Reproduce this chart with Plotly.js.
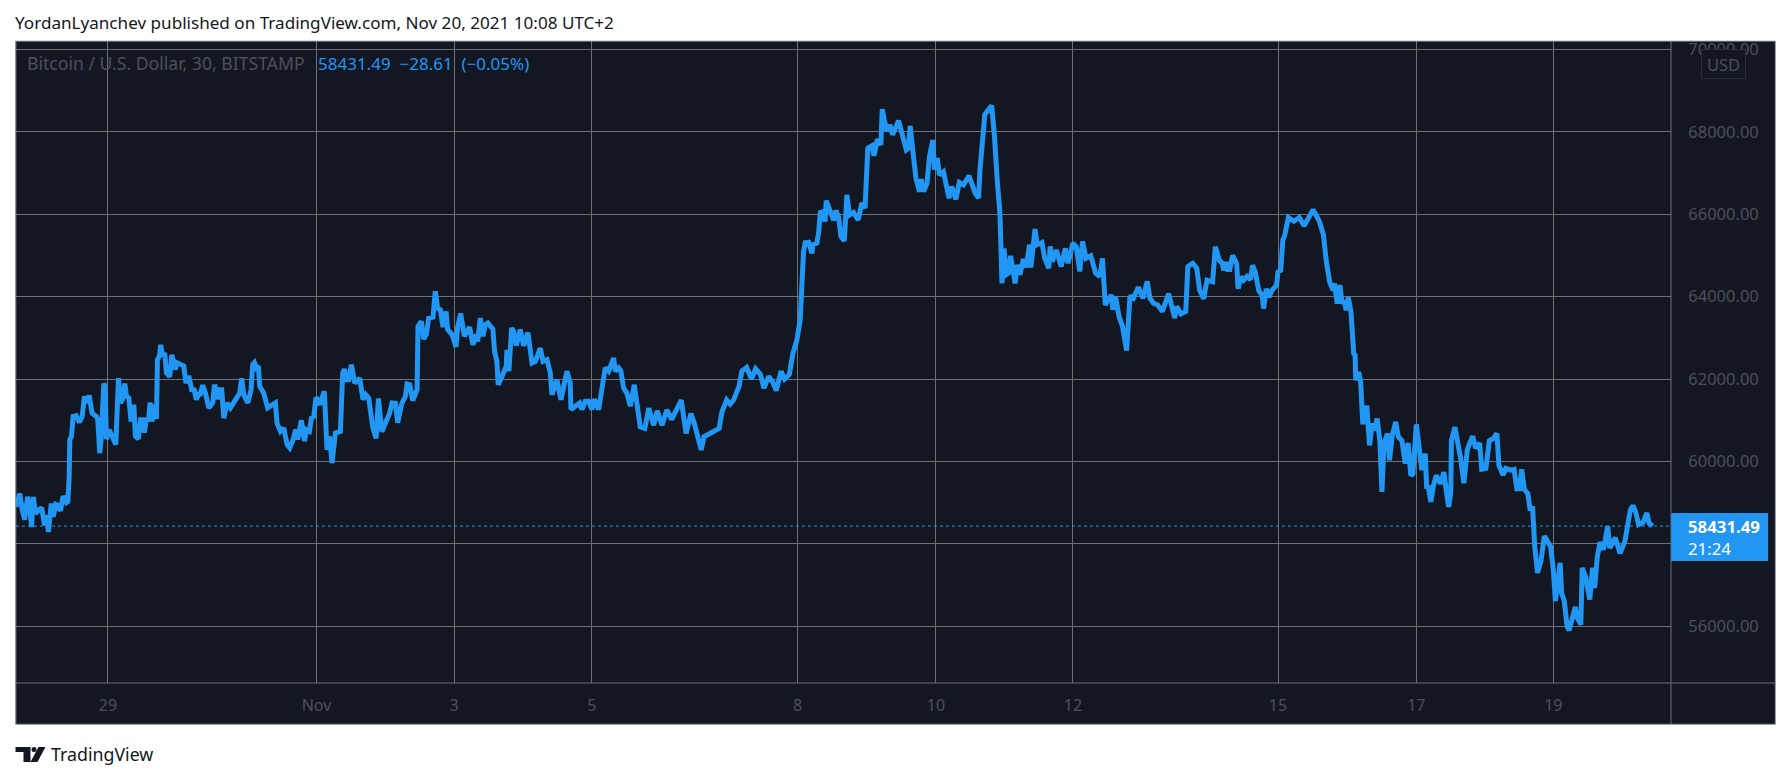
<!DOCTYPE html>
<html>
<head>
<meta charset="utf-8">
<script src="https://cdn.plot.ly/plotly-3.0.1.min.js"></script>
<style>html,body{margin:0;padding:0;background:#fff;overflow:hidden}#chart{width:1791px;height:778px}</style>
</head>
<body>
<div id="chart"></div>
<script>
// Days since 29 Oct 2021 (axis unit) and BTC/USD price
const days = [-1.337,-1.28,-1.245,-1.21,-1.167,-1.14,-1.11,-1.083,-1.055,-1.013,-0.963,-0.921,-0.893,-0.865,-0.823,-0.794,-0.759,-0.731,-0.689,-0.653,-0.604,-0.583,-0.564,-0.554,-0.53,-0.506,-0.462,-0.414,-0.375,-0.341,-0.312,-0.274,-0.23,-0.167,-0.148,-0.119,-0.1,-0.06,-0.041,-0.022,0.017,0.06,0.114,0.153,0.182,0.21,0.245,0.269,0.303,0.336,0.375,0.4,0.443,0.472,0.501,0.53,0.559,0.588,0.612,0.642,0.666,0.705,0.719,0.748,0.767,0.796,0.825,0.85,0.898,0.927,0.98,1.0,1.063,1.101,1.135,1.174,1.222,1.246,1.285,1.319,1.343,1.377,1.416,1.465,1.523,1.547,1.576,1.595,1.624,1.653,1.682,1.731,1.779,1.876,1.914,1.943,1.973,2.031,2.079,2.103,2.128,2.157,2.186,2.205,2.263,2.321,2.433,2.457,2.506,2.554,2.603,2.641,2.69,2.728,2.757,2.811,2.854,2.883,2.927,2.956,2.99,3.023,3.076,3.144,3.183,3.217,3.256,3.304,3.377,3.411,3.435,3.474,3.498,3.537,3.585,3.658,3.706,3.745,3.79,3.846,3.896,3.93,3.98,4.037,4.09,4.128,4.177,4.21,4.27,4.322,4.346,4.385,4.428,4.491,4.505,4.553,4.587,4.626,4.66,4.723,4.756,4.79,4.83,4.868,4.912,4.936,4.999,5.057,5.081,5.125,5.178,5.255,5.303,5.352,5.372,5.41,5.448,5.482,5.52,5.593,5.617,5.651,5.67,5.725,5.787,5.797,5.826,5.865,5.894,5.933,5.991,6.039,6.102,6.161,6.21,6.282,6.321,6.379,6.427,6.451,6.524,6.582,6.669,6.717,6.727,6.853,6.887,6.935,6.984,7.032,7.066,7.129,7.163,7.2,7.225,7.274,7.347,7.37,7.42,7.453,7.492,7.54,7.59,7.647,7.686,7.734,7.8,7.858,7.93,7.98,8.05,8.12,8.19,8.33,8.4,8.47,8.52,8.58,8.62,8.66,8.79,8.88,8.92,8.99,9.04,9.09,9.17,9.21,9.28,9.35,9.41,9.48,9.53,9.6,9.66,9.71,9.78,9.83,9.9,9.95,10.01,10.058,10.106,10.13,10.18,10.228,10.243,10.3,10.325,10.35,10.387,10.42,10.436,10.47,10.505,10.544,10.577,10.616,10.65,10.7,10.736,10.775,10.833,10.9,10.953,11.0,11.04,11.1,11.13,11.18,11.23,11.25,11.28,11.318,11.36,11.4,11.487,11.545,11.6,11.63,11.656,11.695,11.74,11.79,11.815,11.85,11.9,11.936,11.985,12.01,12.05,12.08,12.14,12.22,12.26,12.32,12.37,12.43,12.51,12.55,12.6,12.65,12.67,12.74,12.84,12.88,12.9,12.92,12.96,12.99,13.02,13.05,13.085,13.114,13.15,13.18,13.21,13.25,13.3,13.34,13.39,13.41,13.47,13.5,13.57,13.61,13.67,13.69,13.72,13.78,13.85,13.91,13.95,14.02,14.07,14.12,14.16,14.21,14.28,14.35,14.41,14.45,14.49,14.58,14.6,14.64,14.69,14.74,14.8,14.85,14.9,14.97,15.04,15.1,15.14,15.19,15.25,15.32,15.41,15.48,15.5,15.53,15.59,15.66,15.69,15.76,15.82,15.86,15.92,15.97,16.05,16.09,16.15,16.19,16.21,16.25,16.27,16.3,16.34,16.4,16.42,16.46,16.5,16.55,16.6,16.63,16.67,16.72,16.77,16.79,16.83,16.87,16.91,16.98,17.0,17.04,17.07,17.1,17.15,17.23,17.31,17.38,17.45,17.51,17.6,17.66,17.7,17.75,17.8,17.82,17.86,17.9,17.93,17.96,17.99,18.02,18.06,18.1,18.12,18.13,18.17,18.2,18.23,18.27,18.29,18.33,18.37,18.4,18.44,18.48,18.51,18.54,18.59,18.62,18.66,18.71,18.75,18.8,18.85,18.89,18.93,18.96,19.01,19.05,19.09,19.14,19.16,19.18,19.22,19.26,19.3,19.36,19.41,19.45,19.48,19.51,19.52,19.57,19.61,19.65,19.7,19.75,19.78,19.83,19.87,19.93,19.96,20.02,20.07,20.13,20.18,20.21,20.27,20.31,20.38,20.43,20.47,20.51,20.54,20.58,20.63,20.66,20.7,20.73,20.77,20.82,20.87,20.93,20.96,21.0,21.03,21.1,21.12,21.16,21.2,21.23,21.27,21.32,21.35,21.4,21.42,21.47,21.53,21.57,21.6,21.64,21.68,21.73,21.79,21.82,21.9,21.97,22.04,22.08,22.12,22.16,22.2,22.24,22.3,22.36,22.39,22.44];
const prices = [58900,59220,58820,58590,59140,58940,58410,59140,58740,58800,58880,58450,58700,58290,58980,58660,58960,58940,58800,59160,59000,59020,59600,60530,60610,61090,61110,60950,61090,61580,61420,61600,61170,61090,61010,60200,60530,61890,61820,60540,60770,60610,60410,62020,61420,61500,61890,61580,61540,60970,61380,60610,60550,61010,61010,60700,61050,60970,61430,60970,61380,61030,62470,62550,62830,62550,62630,62150,62060,62590,62230,62400,62350,62320,61900,62080,61700,61780,61500,61640,61640,61850,61660,61300,61430,61860,61740,61510,61740,61740,61050,61420,61300,61580,61660,62020,61620,61420,61740,62350,62400,62270,62310,61820,61660,61300,61420,60930,60730,60810,60410,60330,60530,60770,60530,61000,60490,60770,60730,61050,61090,61560,61380,61700,60280,60610,59960,60690,60730,62150,62240,61980,61980,62350,61900,62020,61500,61620,61530,60840,60560,61530,60720,60960,61160,61420,61410,60940,61410,61580,61880,61860,61480,61740,63280,63400,62970,63080,63480,63500,64130,63720,63680,63260,63640,63200,63080,62780,63260,63590,63040,63260,62830,63080,62910,63480,63040,63320,63360,63210,62670,62430,61860,62060,62310,62710,62190,63240,63160,62810,63200,62810,63130,62390,62430,62750,62430,62470,62150,61620,61980,61500,62190,61900,61260,61420,61260,61460,61460,61260,61510,61260,61660,61900,62270,62190,62510,62190,62270,62190,61780,61660,61340,61860,61340,60840,60800,61290,60880,61230,60880,61250,61020,61490,60680,61160,60920,60520,60280,60600,60700,60800,61200,61490,61390,61490,61830,62190,62280,62000,62250,62110,61780,62060,61920,61720,62190,62000,62110,62610,62950,63440,65090,65310,65320,65050,65260,65300,65540,66040,66060,65820,66330,66150,66060,65850,66090,65940,65460,65350,66470,65980,66040,65860,66270,66150,67600,67660,67420,67820,67680,68550,68290,68010,68170,67930,68270,67840,67560,67600,68140,67520,66870,66550,66850,66550,66750,67400,67800,67080,67360,66950,67030,66390,66670,66360,66770,66710,66930,66750,66510,66390,67080,68420,68640,67900,67100,66840,66020,64320,65170,64530,64570,64990,64650,64320,64770,64530,64910,64710,65260,64710,65640,65260,65310,64930,64690,65220,64850,65130,64730,65170,64810,65300,65200,64610,65340,64930,64990,64570,64490,64930,63800,64040,63680,64000,63520,63280,62690,64020,63960,64230,63960,64370,63960,63840,63800,63640,64070,63680,63480,63760,63580,63640,64730,64810,64690,64160,63950,64400,64360,65210,64870,64820,64640,64840,64660,64660,65000,64800,64190,64480,64400,64490,64410,64760,64600,64150,64030,63710,64190,63990,64150,64280,64600,64640,65370,65500,65920,65830,65920,65720,65920,66110,65830,65500,64880,64360,64150,64320,63830,64280,63830,63910,63670,63990,63630,62620,62580,61970,62170,61970,60960,60960,61360,60390,60920,60760,61040,60510,59260,60430,60680,60030,60630,60960,60590,60510,59950,60450,59660,59700,60900,60350,59790,60190,59340,59420,59020,59420,59660,59460,59740,59220,58900,59260,60510,60830,60480,60110,59470,60280,60420,60610,60320,60450,59810,59830,60500,60560,60680,59910,59670,59830,59790,59810,59340,59340,59810,59320,59220,58860,58860,57930,57300,57580,58190,57980,57940,57380,56610,57540,56810,56610,56000,55900,56200,56470,56200,56040,57420,57200,56650,57420,56930,57700,58040,57860,58430,57900,58150,57770,58060,58510,58830,58930,58750,58470,58510,58750,58510,58431.49];

const xTickVals = [0,3.03,5.03,7.03,10.02,12.03,14.02,17,19.01,21];
const xTickText = ["29","Nov","3","5","8","10","12","15","17","19"];
const yTickVals = [56000,58000,60000,62000,64000,66000,68000,70000];
const yTickText = ["56000.00","","60000.00","62000.00","64000.00","66000.00","68000.00","70000.00"];
const lastPrice = 58431.49;

const FONT = '"Noto Sans", sans-serif';
const BLUE = '#2196f3', DARK = '#131722', MUTED = '#4c5059', GRID = '#6f7178', EDGE = '#9598a1';
const L = 15.5, R = 1671.3, T = 41, B = 683, W = R - L, H = B - T;
const px = v => (v - L) / W, py = v => (B - v) / H;

function txt(text, x, y, color, size, anchor, extra) {
  return Object.assign({text, x: px(x), y: py(y), xref: 'paper', yref: 'paper', xanchor: anchor || 'left', yanchor: 'middle',
    showarrow: false, font: {family: FONT, size, color}}, extra || {});
}
function rect(x0, y0, x1, y1, fill, lineColor, layer) {
  return {type: 'rect', xref: 'paper', yref: 'paper', x0: px(x0), x1: px(x1), y0: py(y0), y1: py(y1),
    fillcolor: fill, line: {color: lineColor || 'rgba(0,0,0,0)', width: lineColor ? 1 : 0}, layer: layer || 'above'};
}
function seg(x0, y0, x1, y1, color) {
  return {type: 'line', xref: 'paper', yref: 'paper', x0: px(x0), x1: px(x1), y0: py(y0), y1: py(y1), line: {color, width: 1}, layer: 'above'};
}
function poly(points, fill) {
  return {type: 'path', xref: 'paper', yref: 'paper', fillcolor: fill, line: {width: 0}, layer: 'above',
    path: 'M' + points.map(p => px(p[0]) + ',' + py(p[1])).join('L') + 'Z'};
}

const shapes = [
  rect(15, 41, 1775.7, 724.3, DARK, null, 'below'),
  {type: 'line', xref: 'x', yref: 'y', x0: days[0], x1: 22.71, y0: lastPrice, y1: lastPrice, line: {color: BLUE, width: 1, dash: 'dot'}, layer: 'above'},
  seg(15, 683, 1775.7, 683, GRID),
  seg(1671.3, 41, 1671.3, 724.3, GRID),
  seg(15, 41, 1775.7, 41, '#b4b6bd'),
  seg(15.3, 41, 15.3, 724.3, EDGE),
  seg(1775.7, 41, 1775.7, 724.3, EDGE),
  seg(15, 724.3, 1775.7, 724.3, EDGE),
  rect(1671.5, 513, 1768.5, 561, BLUE),
  // TradingView mark
  poly([[15,747],[30,747],[30,762],[23,762],[23,752],[15,752]], '#131722'),
  poly([[38,747],[45,747],[37,762],[30,762]], '#131722'),
  {type: 'circle', xref: 'paper', yref: 'paper', x0: px(31), x1: px(36), y0: py(747), y1: py(752), fillcolor: '#131722', line: {width: 0}, layer: 'above'}
];

const annotations = [
  txt('Bitcoin / U.S. Dollar, 30, BITSTAMP', 25, 63.5, MUTED, 17.6),
  txt('58431.49  −28.61  (−0.05%)', 315.5, 63.5, BLUE, 17),
  txt('<b>58431.49</b>', 1686, 526.5, '#ffffff', 16.8),
  txt('21:24', 1686, 548, '#ffffff', 16.8),
  txt('USD', 1724, 64, MUTED, 16.5, 'center', {bgcolor: DARK, bordercolor: '#2a2e39', borderwidth: 1, borderpad: 3, width: 37, height: 22}),
  txt('TradingView', 49, 754, '#131722', 17.8)
];

Plotly.newPlot('chart', [{
  type: 'scatter', mode: 'lines', x: days, y: prices, hoverinfo: 'skip',
  line: {color: BLUE, width: 5, shape: 'linear'}
}], {
  width: 1791, height: 778,
  margin: {l: L, r: 1791 - R, t: T, b: 778 - B, pad: 0},
  paper_bgcolor: '#ffffff', plot_bgcolor: DARK,
  showlegend: false,
  font: {family: FONT, size: 16, color: MUTED},
  title: {text: 'YordanLyanchev published on TradingView.com, Nov 20, 2021 10:08 UTC+2', xref: 'container', yref: 'container',
    x: 15 / 1791, xanchor: 'left', y: 1 - 23 / 778, yanchor: 'middle', font: {family: FONT, size: 17.1, color: '#131722'}},
  xaxis: {type: 'linear', range: [-1.336, 22.71], tickmode: 'array', tickvals: xTickVals, ticktext: xTickText,
    showgrid: true, gridcolor: GRID, gridwidth: 1, zeroline: false, showline: false,
    ticks: 'outside', ticklen: 8, tickcolor: 'rgba(0,0,0,0)', tickfont: {family: FONT, size: 16, color: MUTED}},
  yaxis: {type: 'linear', side: 'right', range: [54624, 70203], tickmode: 'array', tickvals: yTickVals, ticktext: yTickText,
    showgrid: true, gridcolor: GRID, gridwidth: 1, zeroline: false, showline: false,
    ticks: 'outside', ticklen: 13, tickcolor: 'rgba(0,0,0,0)', tickfont: {family: FONT, size: 16.5, color: MUTED}},
  shapes, annotations
}, {displayModeBar: false, staticPlot: true});
</script>
</body>
</html>
